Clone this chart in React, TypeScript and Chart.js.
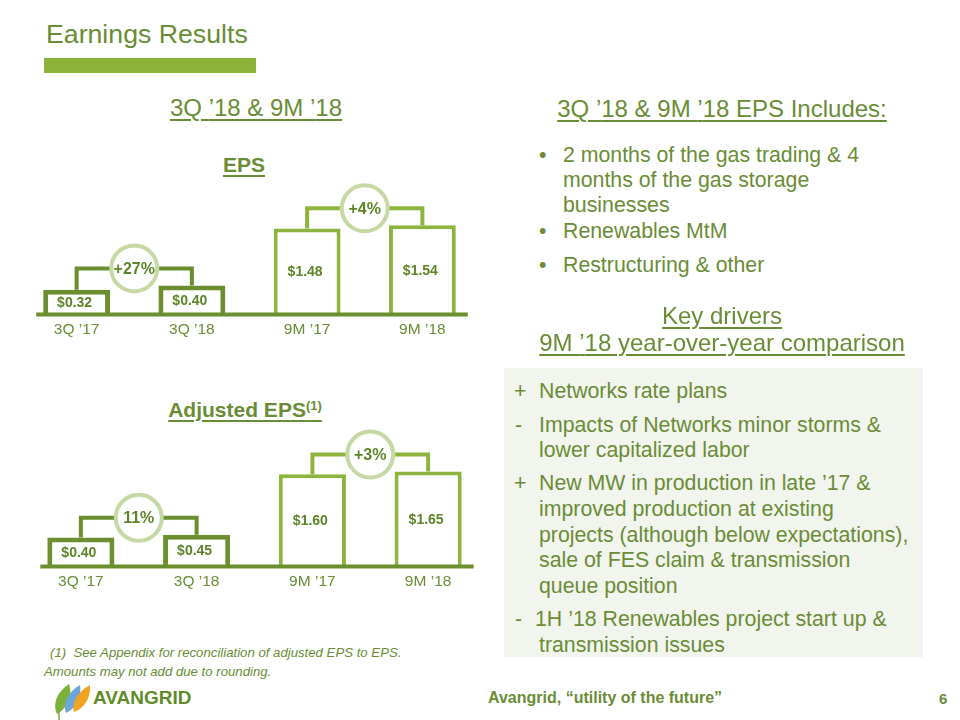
import React, { useEffect, useRef } from "react";
import { Chart, registerables } from "chart.js";

Chart.register(...registerables);

// ---------- data ----------
const periods = ["3Q \u201917", "3Q \u201918", "9M \u201917", "9M \u201918"];
const epsValues = [0.32, 0.4, 1.48, 1.54];
const adjEpsValues = [0.4, 0.45, 1.6, 1.65];
const epsChanges = ["+27%", "+4%"];
const adjEpsChanges = ["11%", "+3%"];
const valueLabels = (vals: number[]) => vals.map((v) => "$" + v.toFixed(2));

const AXIS_MIN = -0.15;
const AXIS_MAX = 2.4;

// ---------- style ----------
const FONT = "'Liberation Sans', Arial, Helvetica, sans-serif";
const TEXT = "#6a8c35";
const DARK = "#6b8e2e";
const LIGHT = "#8db43c";
const CIRCLE = "#c6d9a5";
const LABEL = "#5e8429";

const barColors = [DARK, DARK, LIGHT, LIGHT];
const barWidths = [5, 5, 4, 4];

const decoPlugin = {
  id: "deco",
  afterDatasetsDraw(chart: any) {
    const ctx = chart.ctx;
    const meta = chart.getDatasetMeta(0);
    const bars = meta.data as any[];
    const area = chart.chartArea;
    const changes: string[] = chart.options.plugins.deco.changes;
    const labels: string[] = chart.options.plugins.deco.labels;
    ctx.save();
    // baseline
    const b0 = bars[0];
    const b3 = bars[bars.length - 1];
    ctx.strokeStyle = DARK;
    ctx.lineWidth = 4;
    ctx.beginPath();
    ctx.moveTo(b0.x - b0.width / 2 - 7, area.bottom);
    ctx.lineTo(b3.x + b3.width / 2 + 12, area.bottom);
    ctx.stroke();

    // brackets and circles
    const pairs: [number, number, string][] = [
      [0, 1, DARK],
      [2, 3, LIGHT],
    ];
    pairs.forEach(([i, j, col], k) => {
      const a = bars[i];
      const b = bars[j];
      const by = Math.min(a.y, b.y) - 17;
      ctx.strokeStyle = col;
      ctx.lineWidth = 4;
      ctx.lineJoin = "miter";
      ctx.beginPath();
      ctx.moveTo(a.x, a.y);
      ctx.lineTo(a.x, by);
      ctx.lineTo(b.x, by);
      ctx.lineTo(b.x, b.y);
      ctx.stroke();
      const cx = (a.x + b.x) / 2;
      ctx.beginPath();
      ctx.arc(cx, by, 23, 0, Math.PI * 2);
      ctx.fillStyle = "#ffffff";
      ctx.fill();
      ctx.strokeStyle = CIRCLE;
      ctx.lineWidth = 4;
      ctx.stroke();
      ctx.fillStyle = LABEL;
      ctx.font = "bold 16px " + FONT;
      ctx.textAlign = "center";
      ctx.textBaseline = "middle";
      ctx.fillText(changes[k], cx, by + 1);
    });

    // value labels
    ctx.fillStyle = LABEL;
    ctx.font = "bold 14px " + FONT;
    ctx.textAlign = "center";
    ctx.textBaseline = "middle";
    bars.forEach((bar, i) => {
      ctx.fillText(labels[i], bar.x - 2, (bar.y + bar.base) / 2 + 1);
    });
    ctx.restore();
  },
};

function EpsChart(props: {
  values: number[];
  changes: string[];
  left: number;
  top: number;
  width: number;
  height: number;
}) {
  const ref = useRef<HTMLCanvasElement | null>(null);
  useEffect(() => {
    if (!ref.current) return;
    const chart = new Chart(ref.current, {
      type: "bar",
      data: {
        labels: periods,
        datasets: [
          {
            data: props.values,
            base: AXIS_MIN,
            backgroundColor: "#ffffff",
            borderColor: barColors,
            borderWidth: barWidths,
            categoryPercentage: 1,
            barPercentage: 0.58,
          } as any,
        ],
      },
      options: {
        responsive: false,
        maintainAspectRatio: false,
        animation: false,
        layout: { padding: { top: 10, left: 0, right: 0, bottom: 0 } },
        plugins: {
          legend: { display: false },
          tooltip: { enabled: false },
          deco: { changes: props.changes, labels: valueLabels(props.values) },
        } as any,
        scales: {
          x: {
            grid: { display: false, drawTicks: false },
            border: { display: false },
            ticks: { color: TEXT, font: { family: FONT, size: 15.5 }, padding: 6 },
          },
          y: { display: false, min: AXIS_MIN, max: AXIS_MAX },
        },
      },
      plugins: [decoPlugin],
    });
    return () => chart.destroy();
  }, []);
  return (
    <canvas
      ref={ref}
      width={props.width}
      height={props.height}
      style={{
        position: "absolute",
        left: props.left,
        top: props.top,
        width: props.width,
        height: props.height,
      }}
    />
  );
}

function T(props: {
  x: number;
  y: number;
  size: number;
  children: any;
  center?: boolean;
  bold?: boolean;
  italic?: boolean;
  underline?: boolean;
  color?: string;
}) {
  const lh = Math.round(props.size * 1.3);
  const style: any = {
    position: "absolute",
    top: props.y - lh / 2,
    lineHeight: lh + "px",
    fontSize: props.size,
    fontFamily: FONT,
    fontWeight: props.bold ? "bold" : "normal",
    fontStyle: props.italic ? "italic" : "normal",
    color: props.color || TEXT,
    whiteSpace: "nowrap",
    textDecoration: props.underline ? "underline" : "none",
    textDecorationThickness: "2px",
    textUnderlineOffset: "3px",
  };
  if (props.center) {
    style.left = props.x - 300;
    style.width = 600;
    style.textAlign = "center";
  } else {
    style.left = props.x;
  }
  return <div style={style}>{props.children}</div>;
}

function Logo() {
  return (
    <svg
      width={42}
      height={40}
      style={{ position: "absolute", left: 52, top: 680 }}
      viewBox="0 0 42 40"
    >
      <path d="M5 34 C0 24 5 12 17 4 C21 15 16 28 5 34 Z" fill="#7bb13a" />
      <path d="M14 33 C10 23 17 11 28 5 C30 16 25 28 14 33 Z" fill="#6aa7d8" />
      <path d="M22 32 C19 22 27 11 38 5 C39 17 33 28 22 32 Z" fill="#f1a21f" />
      <path d="M7 32 L7 40" stroke="#7bb13a" strokeWidth={1.5} />
    </svg>
  );
}

export default function App() {
  const B = 21.3;
  return (
    <div
      style={{
        position: "absolute",
        left: 0,
        top: 0,
        width: 960,
        height: 720,
        background: "#ffffff",
        overflow: "hidden",
        fontFamily: FONT,
      }}
    >
      <T x={46} y={34} size={26.7}>Earnings Results</T>
      <div
        style={{
          position: "absolute",
          left: 44,
          top: 58,
          width: 212,
          height: 15,
          background: "#8db33a",
        }}
      />

      <T x={256} y={107} size={24} center underline>
        3Q {"\u2019"}18 &amp; 9M {"\u2019"}18
      </T>
      <T x={722} y={108} size={24} center underline>
        3Q {"\u2019"}18 &amp; 9M {"\u2019"}18 EPS Includes:
      </T>

      <T x={244} y={164} size={21} center bold underline>EPS</T>
      <T x={245} y={409} size={21} center bold underline>
        Adjusted EPS<sup style={{ fontSize: 13, verticalAlign: "7px", lineHeight: 0 }}>(1)</sup>
      </T>

      <EpsChart values={epsValues} changes={epsChanges} left={19} top={170} width={461} height={175} />
      <EpsChart values={adjEpsValues} changes={adjEpsChanges} left={23} top={422} width={463} height={175} />

      {/* bullets */}
      <T x={539} y={155} size={B}>{"\u2022"}</T>
      <T x={563} y={155} size={B}>2 months of the gas trading &amp; 4</T>
      <T x={563} y={180} size={B}>months of the gas storage</T>
      <T x={563} y={205} size={B}>businesses</T>
      <T x={539} y={231} size={B}>{"\u2022"}</T>
      <T x={563} y={231} size={B}>Renewables MtM</T>
      <T x={539} y={265} size={B}>{"\u2022"}</T>
      <T x={563} y={265} size={B}>Restructuring &amp; other</T>

      <T x={722} y={315} size={24} center underline>Key drivers</T>
      <T x={722} y={342} size={24} center underline>
        9M {"\u2019"}18 year-over-year comparison
      </T>

      <div
        style={{
          position: "absolute",
          left: 504,
          top: 368,
          width: 419,
          height: 289,
          background: "#f2f4ee",
        }}
      />
      <T x={514} y={391} size={B}>+</T>
      <T x={539} y={391} size={B}>Networks rate plans</T>
      <T x={515} y={425} size={B}>-</T>
      <T x={539} y={425} size={B}>Impacts of Networks minor storms &amp;</T>
      <T x={539} y={450} size={B}>lower capitalized labor</T>
      <T x={514} y={483} size={B}>+</T>
      <T x={539} y={483} size={B}>New MW in production in late {"\u2019"}17 &amp;</T>
      <T x={539} y={509} size={B}>improved production at existing</T>
      <T x={539} y={535} size={B}>projects (although below expectations),</T>
      <T x={539} y={560} size={B}>sale of FES claim &amp; transmission</T>
      <T x={539} y={586} size={B}>queue position</T>
      <T x={515} y={619} size={B}>-</T>
      <T x={535} y={619} size={B}>1H {"\u2019"}18 Renewables project start up &amp;</T>
      <T x={539} y={645} size={B}>transmission issues</T>

      <T x={50} y={652} size={13.2} italic>
        (1){"\u00a0\u00a0"}See Appendix for reconciliation of adjusted EPS to EPS.
      </T>
      <T x={44} y={671} size={13.2} italic>Amounts may not add due to rounding.</T>

      <Logo />
      <T x={93} y={697} size={19} bold color="#5f8c28">AVANGRID</T>
      <T x={488} y={697} size={16} bold>Avangrid, {"\u201c"}utility of the future{"\u201d"}</T>
      <T x={939} y={699} size={15} bold>6</T>
    </div>
  );
}
